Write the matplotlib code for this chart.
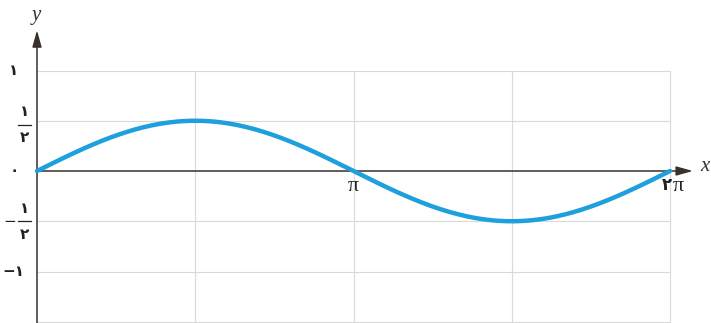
import numpy as np
import matplotlib
matplotlib.use("Agg")
import matplotlib.pyplot as plt

# curve: y = 1/2 sin(x) on [0, 2pi]
x_vals = np.linspace(0, 2 * np.pi, 400)
amplitude = 0.5
y_vals = amplitude * np.sin(x_vals)

x_grid = [np.pi / 2, np.pi, 3 * np.pi / 2, 2 * np.pi]
y_grid = [1, 0.5, -0.5, -1, -1.5]
x_ticks = [np.pi, 2 * np.pi]
x_tick_coefs = ['', '۲']
y_ticks = [1, 0, -1]
y_tick_labels = ['۱', '۰', '−۱']
y_frac_ticks = [0.5, -0.5]

axis_col = '#3b2f2a'
grid_col = '#d9d9d9'
curve_col = '#1ea0dc'
digit_font = ['DejaVu Sans']
serif_font = ['Liberation Serif', 'DejaVu Serif']

fig = plt.figure(figsize=(7.11, 3.23), dpi=100)
ax = fig.add_axes([0, 0, 1, 1])
ax.set_xlim(-37 / 100.75, 674 / 100.75)
ax.set_ylim(-152 / 100.5, 171 / 100.5)
ax.axis('off')

# grid
for gx in x_grid:
    ax.plot([gx, gx], [-1.6, 1], color=grid_col, lw=0.8, zorder=1)
for gy in y_grid:
    ax.plot([0, 2 * np.pi], [gy, gy], color=grid_col, lw=0.8, zorder=1)

# axes with arrows
ax.annotate('', xy=(6.51, 0), xytext=(0, 0),
            arrowprops=dict(arrowstyle='-|>,head_length=1.0,head_width=0.28',
                            color=axis_col, lw=1.1, shrinkA=0, shrinkB=0), zorder=2)
ax.annotate('', xy=(0, 1.40), xytext=(0, -1.6),
            arrowprops=dict(arrowstyle='-|>,head_length=1.0,head_width=0.28',
                            color=axis_col, lw=1.1, shrinkA=0, shrinkB=0), zorder=2)
ax.text(6.63, 0.04, 'x', fontsize=15, style='italic', family=serif_font,
        color='#333333', ha='center', va='center')
ax.text(-0.01, 1.55, 'y', fontsize=15, style='italic', family=serif_font,
        color='#333333', ha='center', va='center')

# curve
ax.plot(x_vals, y_vals, color=curve_col, lw=3.2, solid_capstyle='round', zorder=3)

# x tick labels: coefficient digit (bold) + pi (serif)
for xt, coef in zip(x_ticks, x_tick_coefs):
    px = xt + (0.08 if coef else 0)
    ax.text(px, -0.15, 'π', fontsize=16, family=serif_font,
            color='#222222', ha='center', va='center', zorder=4)
    if coef:
        ax.text(px - 0.06, -0.14, coef, fontsize=12, family=digit_font, weight='bold',
                color='#222222', ha='right', va='center', zorder=4)

# y tick labels
for yt, lab in zip(y_ticks, y_tick_labels):
    ax.text(-0.23, yt, lab, fontsize=11, family=digit_font, weight='bold',
            color='#222222', ha='center', va='center')

# fraction labels 1/2 and -1/2
for yt in y_frac_ticks:
    yc = yt - 0.04 if yt > 0 else yt
    ax.plot([-0.19, -0.06], [yc, yc], color='#222222', lw=0.9)
    ax.text(-0.125, yc + 0.13, '۱', fontsize=11, family=digit_font, weight='bold',
            color='#222222', ha='center', va='center')
    ax.text(-0.125, yc - 0.13, '۲', fontsize=11, family=digit_font, weight='bold',
            color='#222222', ha='center', va='center')
    if yt < 0:
        ax.text(-0.27, yc, '−', fontsize=11, family=digit_font,
                color='#222222', ha='center', va='center')

fig.savefig('out.png', dpi=100)
